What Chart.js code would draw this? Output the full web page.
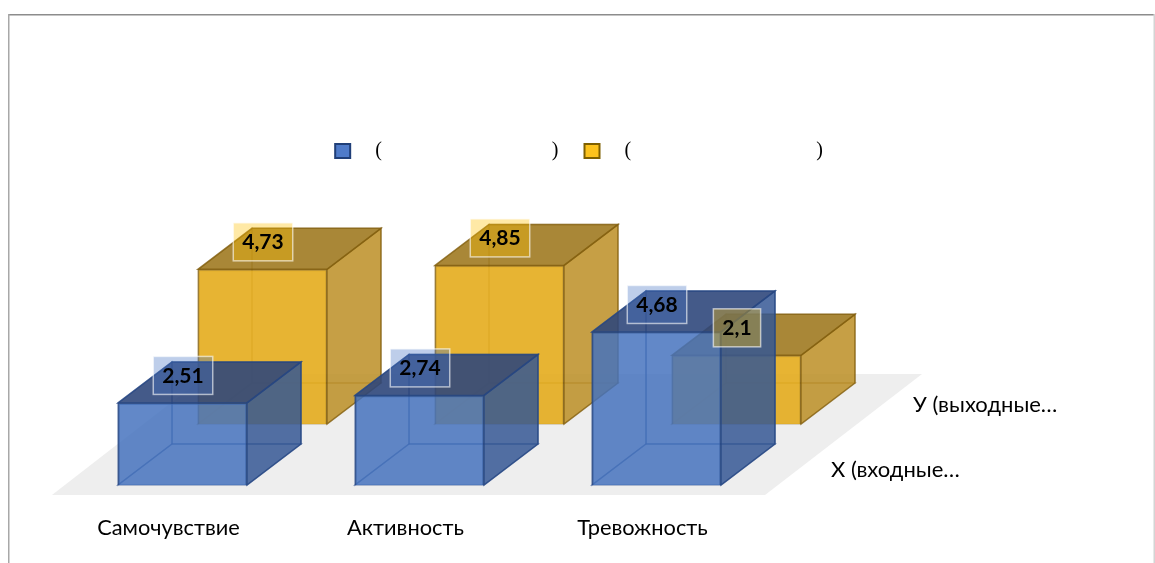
<!DOCTYPE html>
<html><head><meta charset="utf-8">
<style>html,body{margin:0;padding:0;background:#fff}canvas{display:block}</style>
<script src="https://cdn.jsdelivr.net/npm/chart.js@4"></script>
</head><body>
<canvas id="c" width="1155" height="563"></canvas>
<script>
const categories = ["Самочувствие", "Активность", "Тревожность"];
const inputValues = [2.51, 2.74, 4.68];
const outputValues = [4.73, 4.85, 2.1];
const inputLabel = "\u00A0\u00A0\u00A0(" + "\u00A0".repeat(34) + ")";
const outputLabel = "\u00A0\u00A0\u00A0(" + "\u00A0".repeat(37) + ")";
const seriesNames = ["X (входные…", "У (выходные…"];

const FONT = "Lato, 'Open Sans', sans-serif";
const DEPTH = {dx: 54, dy: -41};
const UNIT = 32.7;
const YSHIFT = 61 / UNIT, XSHIFT = 80 / 237;

const styles = [
  {edge:'rgba(38,70,130,0.8)', inner:'rgba(38,70,140,0.45)', back:'rgba(70,110,185,0.28)', side:'rgba(50,85,145,0.78)', top:'rgba(45,68,120,0.85)', tag:'rgba(68,114,196,0.35)'},
  {edge:'rgba(125,90,10,0.7)', inner:'rgba(140,100,15,0.3)', back:'rgba(225,170,30,0.22)', side:'rgba(185,140,35,0.80)', top:'rgba(155,118,28,0.85)', tag:'rgba(255,192,0,0.35)'}
];
function poly(ctx, pts, fill, stroke){
  ctx.beginPath();
  pts.forEach((p,i)=> i?ctx.lineTo(p[0],p[1]):ctx.moveTo(p[0],p[1]));
  ctx.closePath();
  if(fill){ctx.fillStyle=fill;ctx.fill();}
  if(stroke){ctx.strokeStyle=stroke;ctx.lineWidth=1.5;ctx.stroke();}
}
function corners(el){
  const l=el.x-el.width/2,r=el.x+el.width/2,t=el.y,b=el.base;
  const d=DEPTH;
  return {l,r,t,b,bl:l+d.dx,br:r+d.dx,bt:t+d.dy,bb:b+d.dy};
}
const box3d = {
  id:'box3d',
  afterLayout(chart){
    ['y','y2'].forEach(id=>{
      const s=chart.scales[id];
      s.max=s.min+s.height/UNIT;
      s.configure();
    });
  },
  beforeDraw(chart){
    const c=chart.ctx;
    c.save();
    c.fillStyle='#fff';c.fillRect(0,0,chart.width,chart.height);
    c.fillStyle='#8c8c8c';c.fillRect(8,14,1147,1.5);
    c.fillStyle='#a8a8a8';c.fillRect(8,14,1.5,549);
    c.fillStyle='#d4d4d4';c.fillRect(1153.5,14,1.5,549);
    c.restore();
  },
  beforeDatasetsDraw(chart){
    const {x,y}=chart.scales;
    const c=chart.ctx;
    const fl=x.left-12, fr=x.right-10, fb=y.bottom+10;
    poly(c,[[fl,fb],[fr,fb],[fr+157,fb-121],[fl+156,fb-121]],'#eeeeee');
  },
  beforeDatasetDraw(chart,args){
    const c=chart.ctx, s=styles[args.index];
    chart.getDatasetMeta(args.index).data.forEach(el=>{
      const k=corners(el);
      poly(c,[[k.bl,k.bt],[k.br,k.bt],[k.br,k.bb],[k.bl,k.bb]],s.back,s.inner);
      poly(c,[[k.l,k.t],[k.bl,k.bt],[k.bl,k.bb],[k.l,k.b]],s.back,s.inner);
      poly(c,[[k.l,k.b],[k.r,k.b],[k.br,k.bb],[k.bl,k.bb]],s.back,s.inner);
    });
  },
  afterDatasetDraw(chart,args){
    const c=chart.ctx, s=styles[args.index];
    chart.getDatasetMeta(args.index).data.forEach(el=>{
      const k=corners(el);
      poly(c,[[k.r,k.t],[k.br,k.bt],[k.br,k.bb],[k.r,k.b]],s.side,s.edge);
      poly(c,[[k.l,k.t],[k.r,k.t],[k.br,k.bt],[k.bl,k.bt]],s.top,s.edge);
    });
  },
  afterDatasetsDraw(chart){
    const c=chart.ctx;
    c.save();
    c.textAlign='center';c.textBaseline='middle';
    [1,0].forEach(i=>{
      const vals=i?outputValues:inputValues;
      chart.getDatasetMeta(i).data.forEach((el,j)=>{
        const t=String(vals[j]).replace('.',',');
        c.font="bold 21px "+FONT;
        const w=c.measureText(t).width+18, h=38, cx=el.x+0.5, cy=el.y-27.5;
        c.fillStyle=styles[i].tag;
        c.strokeStyle='rgba(255,255,255,0.6)';c.lineWidth=1.5;
        c.fillRect(cx-w/2,cy-h/2,w,h);c.strokeRect(cx-w/2,cy-h/2,w,h);
        c.fillStyle='#000';
        c.fillText(t,cx,cy+0.5);
      });
    });
    c.font="22px "+FONT;c.fillStyle='#000';c.textAlign='left';
    c.fillText(seriesNames[0],831,470);
    c.fillText(seriesNames[1],913,405);
    c.restore();
  }
};
const legendStyle=[['#4f7bc9','#203f78'],['#fdc31d','#7f6000']];
new Chart(document.getElementById('c'),{
  type:'bar',
  data:{
    labels:categories,
    datasets:[
      {label:inputLabel,data:inputValues,xAxisID:'x',yAxisID:'y',grouped:false,barThickness:129,clip:false,
       backgroundColor:'rgba(68,114,190,0.78)',borderColor:styles[0].edge,borderWidth:1.5},
      {label:outputLabel,data:outputValues.map((v,i)=>({x:i,y:v})),xAxisID:'x2',yAxisID:'y2',grouped:false,barThickness:129,clip:false,
       backgroundColor:'rgba(228,172,30,0.88)',borderColor:styles[1].edge,borderWidth:1.5}
    ]
  },
  options:{
    responsive:false,animation:false,
    layout:{padding:{top:115,left:3,right:0,bottom:0}},
    scales:{
      x:{type:'category',offset:true,grid:{display:false},border:{display:false},
         ticks:{font:{family:FONT,size:21.8},color:'#000',labelOffset:-14,padding:22,maxRotation:0,autoSkip:false},
         afterFit(s){s.height=78;}},
      x2:{type:'linear',display:false,offset:false,bounds:'data',min:-0.5-XSHIFT,max:2.5-XSHIFT},
      y:{min:0,position:'left',bounds:'data',grid:{display:false},border:{display:false},ticks:{display:false},afterFit(s){s.width=61;}},
      y2:{min:-YSHIFT,position:'right',bounds:'data',grid:{display:false},border:{display:false},ticks:{display:false},afterFit(s){s.width=380;}}
    },
    plugins:{
      tooltip:{enabled:false},
      legend:{position:'top',labels:{
        boxWidth:15,boxHeight:14,padding:26,color:'#000',
        font:{family:"'Liberation Serif',serif",size:20},
        generateLabels(chart){
          return chart.data.datasets.map((d,i)=>({text:d.label,fillStyle:legendStyle[i][0],strokeStyle:legendStyle[i][1],lineWidth:2,datasetIndex:i,fontColor:'#000'}));
        }
      }}
    }
  },
  plugins:[box3d]
});
</script>
</body></html>
